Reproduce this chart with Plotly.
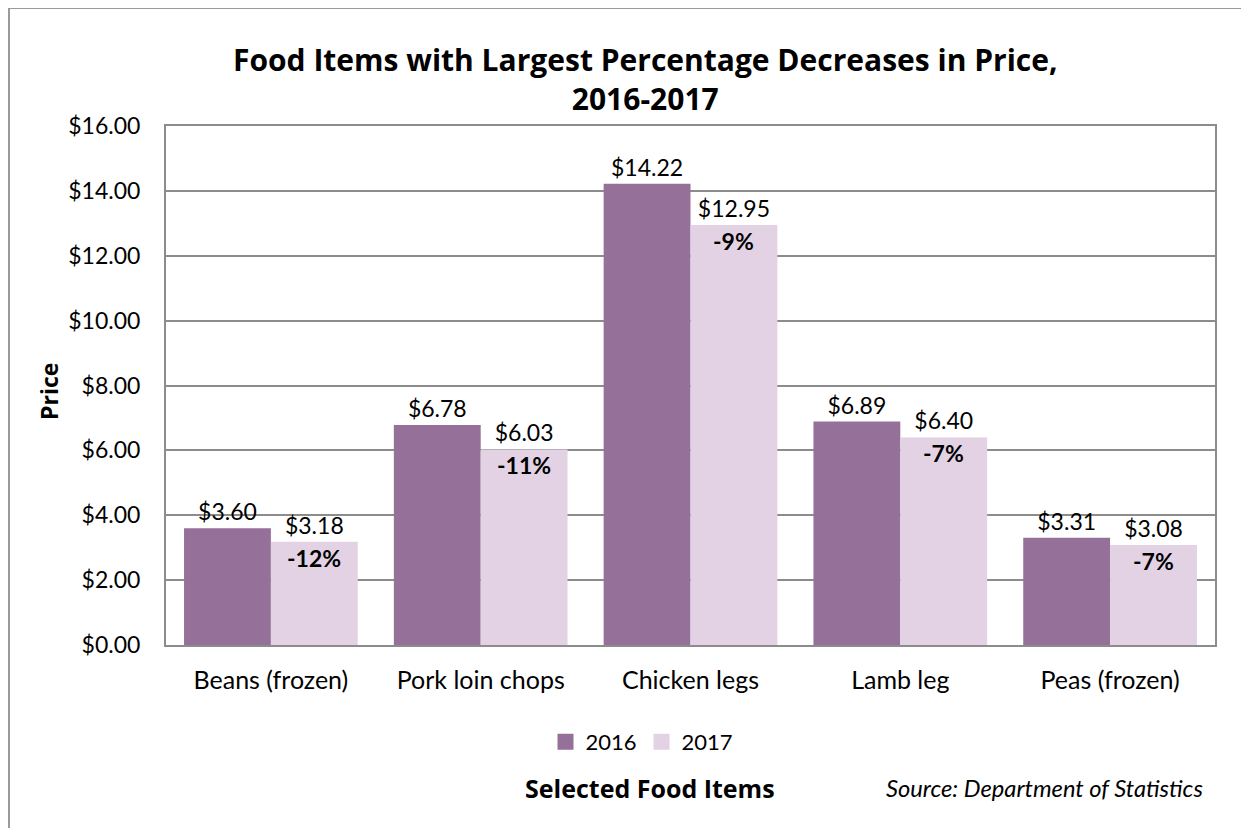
import plotly.graph_objects as go

categories = ["Beans (frozen)", "Pork loin chops", "Chicken legs", "Lamb leg", "Peas (frozen)"]
price_2016 = [3.60, 6.78, 14.22, 6.89, 3.31]
price_2017 = [3.18, 6.03, 12.95, 6.40, 3.08]
series_names = ["2016", "2017"]
y_ticks = [0, 2, 4, 6, 8, 10, 12, 14, 16]
y_tick_labels = [f"${v:.2f}" for v in y_ticks]

title_text = "Food Items with Largest Percentage Decreases in Price,<br>2016-2017"
x_title = "Selected Food Items"
y_title = "Price"
source_text = "Source: Department of Statistics"

C16 = "#957099"
C17 = "#E2D2E4"
FONT = "Lato"
BOLD = "Open Sans"

W, H = 1249, 828
OFF = 8  # page body margin
L, T = 166 - OFF, 126 - OFF
R = W - (1215 - OFF)
B = H - (645 - OFF)
PW, PH = W - L - R, H - T - B


def px_x(px):
    return (px - OFF - L) / PW


def px_y(py):
    return (H - B - (py - OFF)) / PH


fig = go.Figure()
for vals, nm, col in [(price_2016, series_names[0], C16), (price_2017, series_names[1], C17)]:
    fig.add_trace(go.Bar(
        x=categories, y=vals, name=nm, marker=dict(color=col, line=dict(width=0)),
        texttemplate="$%{y:.2f}", textposition="outside",
        textfont=dict(size=23, color="black", family=FONT),
        cliponaxis=False, showlegend=False,
    ))
# legend proxies
for nm, col in zip(series_names, [C16, C17]):
    fig.add_trace(go.Scatter(x=[None], y=[None], mode="markers", name=nm,
                             marker=dict(symbol="square", size=20, color=col)))

bargap = 0.172
bar_w = (1 - bargap) / 2
annotations = []
for i, (a, b) in enumerate(zip(price_2016, price_2017)):
    pct = round((b - a) / a * 100)
    annotations.append(dict(
        x=i + bar_w / 2, y=b, xref="x", yref="y", text=f"<b>{pct}%</b>", showarrow=False,
        yanchor="top", yshift=0, font=dict(size=23, color="black", family=FONT)))

annotations += [
    dict(x=px_x(645), y=px_y(79), xref="paper", yref="paper", text=f"<b>{title_text}</b>",
         showarrow=False, xanchor="center", yanchor="middle",
         font=dict(size=30, color="black", family=BOLD)),
    dict(x=px_x(650), y=px_y(788), xref="paper", yref="paper", text=f"<b>{x_title}</b>",
         showarrow=False, xanchor="center", yanchor="middle",
         font=dict(size=25, color="black", family=BOLD)),
    dict(x=px_x(1205), y=px_y(788), xref="paper", yref="paper", text=f"<i>{source_text}</i>",
         showarrow=False, xanchor="right", yanchor="middle",
         font=dict(size=23.7, color="black", family=FONT)),
    dict(x=px_x(49), y=px_y(392), xref="paper", yref="paper", text=f"<b>{y_title}</b>",
         showarrow=False, xanchor="center", yanchor="middle", textangle=-90,
         font=dict(size=23, color="black", family=BOLD)),
]

shapes = [
    dict(type="line", xref="paper", yref="paper", x0=px_x(9), x1=px_x(1270), y0=px_y(8), y1=px_y(8),
         line=dict(color="#9A9A9A", width=2)),
    dict(type="line", xref="paper", yref="paper", x0=px_x(9), x1=px_x(9), y0=px_y(8), y1=px_y(850),
         line=dict(color="#9A9A9A", width=2)),
]

fig.update_layout(
    width=W, height=H, margin=dict(l=L, r=R, t=T, b=B, pad=0),
    paper_bgcolor="white", plot_bgcolor="white",
    barmode="group", bargap=bargap, bargroupgap=0,
    font=dict(family=FONT, size=22, color="black"),
    annotations=annotations, shapes=shapes,
    legend=dict(orientation="h", x=px_x(642), y=px_y(742), xanchor="center", yanchor="middle",
                font=dict(size=22, family=FONT, color="black"), itemwidth=30,
                bgcolor="rgba(0,0,0,0)"),
    xaxis=dict(showgrid=False, showline=True, mirror=True, linecolor="#8C8C8C", linewidth=2,
               ticks="", ticklabelstandoff=12, tickfont=dict(size=25, family=FONT, color="black")),
    yaxis=dict(range=[0, 16], tickvals=y_ticks, ticktext=y_tick_labels,
               showgrid=True, gridcolor="#8C8C8C", gridwidth=1.5, zeroline=False,
               showline=True, mirror=True, linecolor="#8C8C8C", linewidth=2,
               ticks="", ticklabelstandoff=19, tickfont=dict(size=23, family=FONT, color="black")),
)

fig.write_html("out.html")
